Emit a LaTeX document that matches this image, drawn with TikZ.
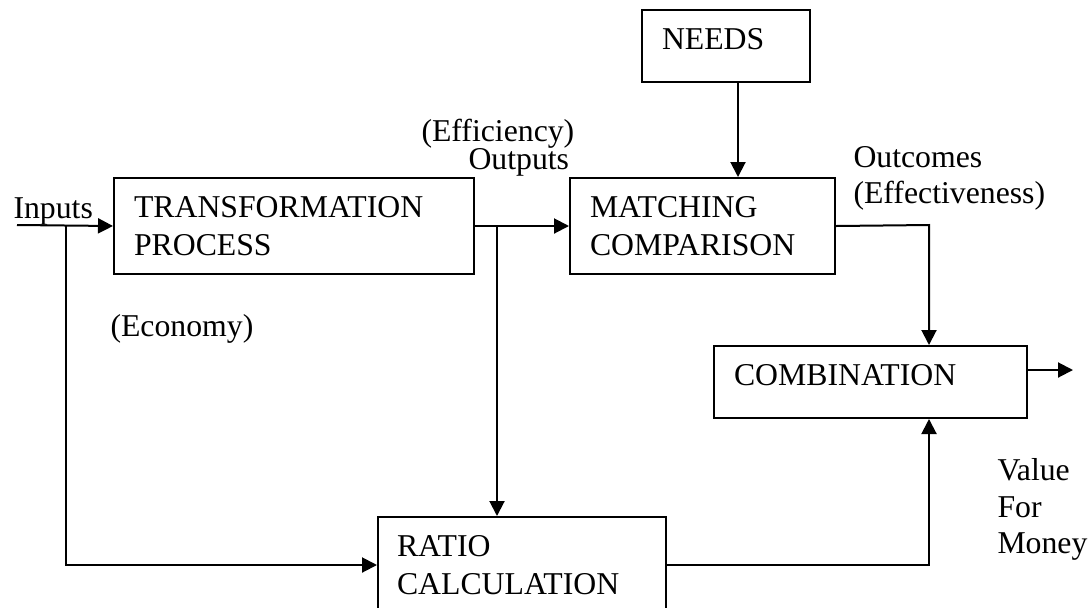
\documentclass[tikz,border=0pt]{standalone}
\usepackage{fontspec}
\setmainfont{Liberation Serif}
\usetikzlibrary{arrows.meta}

\tikzset{
  block/.style={draw, line width=0.8pt, anchor=north west, align=left, inner xsep=8pt, inner ysep=0pt},
  lbl/.style={anchor=base west, inner sep=0pt},
  flow/.style={line width=0.8pt, -{Triangle[length=6pt,width=6pt]}}
}

\begin{document}
\begin{tikzpicture}[x=0.4pt, y=-0.4pt, font=\fontsize{12.7}{15.2}\selectfont]
    \useasboundingbox (0,0) rectangle (1092,607);
    \clip (0,0) rectangle (1092,607);

    \node[block, text width=128pt, minimum height=38.4pt] (trans) at (113,177) {TRANSFORMATION\\PROCESS};
    \node[block, text width=90pt, minimum height=38.4pt] (match) at (569,177) {MATCHING\\COMPARISON};
    \node[block, text width=51.2pt, minimum height=28.8pt, text height=8.3pt, text depth=5.2pt] (needs) at (641,9) {NEEDS};
    \node[block, text width=109.2pt, minimum height=28.8pt, text height=8.3pt, text depth=5.2pt] (comb) at (713,345) {COMBINATION};
    \node[block, text width=100pt, inner xsep=7.6pt, minimum height=38.4pt] (ratio) at (377,516) {RATIO\\CALCULATION};

    % labels
    \node[lbl] (inputs) at (13,218) {Inputs};
    \node[lbl] (effic) at (421,141) {(Efficiency)};
    \node[lbl] (outputs) at (468,169) {Outputs};
    \node[lbl] (outcomes) at (853,167) {Outcomes};
    \node[lbl] (effect) at (853,203) {(Effectiveness)};
    \node[lbl] (econ) at (110,336) {(Economy)};
    \node[lbl] (value) at (997,480) {Value};
    \node[lbl] (for) at (997,517) {For};
    \node[lbl] (money) at (997,553) {Money};

    \coordinate (in) at (17,225);
    \coordinate (split1) at (66,225);
    \coordinate (split2) at (497,225);
    \coordinate (outc) at (929,225);
    \coordinate (vfmout) at (1073,370);

    % connectors
    \draw[flow] (in) -- (trans.west);
    \draw[flow] (split1) |- (ratio.west);
    \draw[flow] (trans.east) -- (match.west);
    \draw[flow] (split2) -- (split2 |- ratio.north);
    \draw[flow] ([xshift=4.8pt]needs.south) -- ([xshift=4.8pt]needs.south |- match.north);
    \draw[flow] (match.east) -- (outc) -- (outc |- comb.north);
    \draw[flow] (ratio.east) -| (outc |- comb.south);
    \draw[flow] (comb.east |- vfmout) -- (vfmout);
\end{tikzpicture}
\end{document}
